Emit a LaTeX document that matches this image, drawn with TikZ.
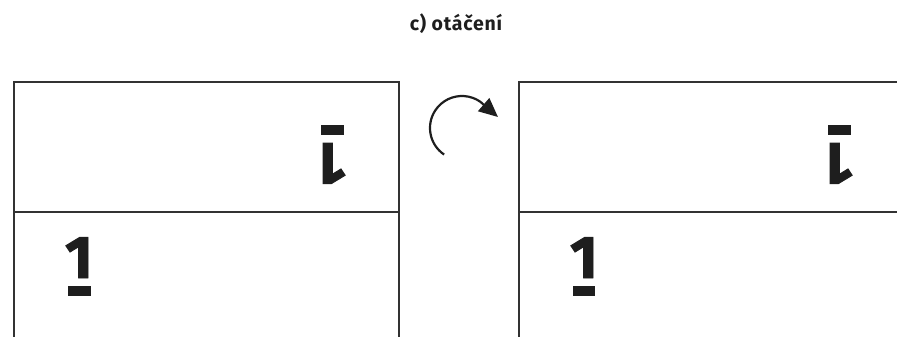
\documentclass[tikz,border=0pt]{standalone}
\usepackage{fontspec}
\setmainfont{Fira Sans}
\newfontfamily\heavyfont[BoldFeatures={FakeBold=1.6}]{Fira Sans}
\newfontfamily\titlefont[BoldFeatures={LetterSpace=4}]{Fira Sans}
\usetikzlibrary{arrows.meta}
\definecolor{ink}{RGB}{30,30,30}
\definecolor{frame}{RGB}{50,50,50}
\tikzset{
  panel/.style={draw=frame, line width=1.3pt},
  digit/.style={inner sep=0pt, text=ink, font=\heavyfont\bfseries\fontsize{60}{60}\selectfont},
  bar/.style={fill=ink, draw=none},
  title/.style={inner sep=0pt, text=ink, font=\titlefont\bfseries\fontsize{19.5}{19.5}\selectfont},
  turn/.style={draw=ink, line width=2.2pt, -{Triangle[length=19pt,width=17pt]}}
}
\begin{document}
\begin{tikzpicture}[x=1pt,y=-1pt]
\useasboundingbox (0,0) rectangle (897,337);
% title
\node[title, anchor=base] (title) at (456,31) {c) otáčení};
% left panel
\draw[panel] (14,337) -- (14,82) -- (399,82) -- (399,337);
\draw[panel] (14,212) -- (399,212);
% right panel
\draw[panel] (519,337) -- (519,82) -- (897,82);
\draw[panel] (519,212) -- (897,212);
% left panel marks
\node[digit, anchor=base] (l1) at (79,278) {1};
\fill[bar] (67.5,286) rectangle (91,296);
\node[digit, anchor=base, rotate=180] (l2) at (332,143) {1};
\fill[bar] (320.5,125) rectangle (343.5,135);
% right panel marks
\node[digit, anchor=base] (r1) at (584,278) {1};
\fill[bar] (573,286) rectangle (595,296);
\node[digit, anchor=base, rotate=180] (r2) at (839,143) {1};
\fill[bar] (827.5,125) rectangle (850.5,135);
% rotation arrow
\coordinate (c) at (462,128);
\coordinate (tip) at (498,117);
\draw[turn] ([shift={(-236:32)}]c) arc[start angle=-236, end angle=-55, radius=32] -- (tip);
\end{tikzpicture}
\end{document}
